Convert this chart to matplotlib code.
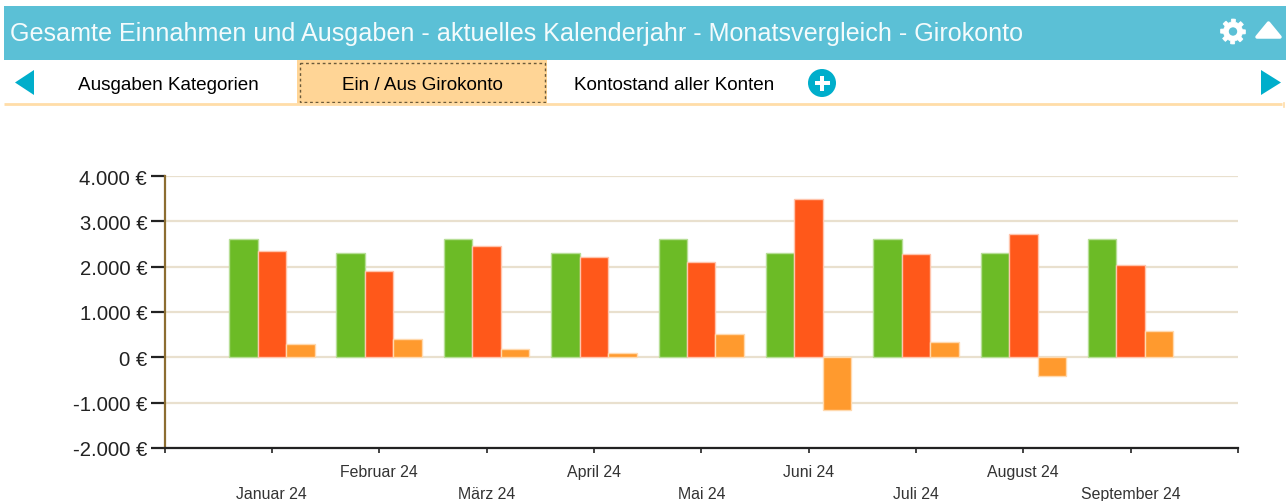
import numpy as np
import matplotlib
matplotlib.use("Agg")
import matplotlib.pyplot as plt
from matplotlib.patches import Rectangle, Polygon, Circle

months = ["Januar 24", "Februar 24", "März 24", "April 24", "Mai 24", "Juni 24",
          "Juli 24", "August 24", "September 24"]
einnahmen = [2616, 2307, 2616, 2307, 2616, 2307, 2616, 2307, 2616]
ausgaben = [2350, 1895, 2445, 2210, 2105, 3486, 2280, 2715, 2040]
differenz = [295, 400, 184, 100, 505, -1170, 335, -408, 575]
y_ticks = [-2000, -1000, 0, 1000, 2000, 3000, 4000]
y_labels = ["-2.000 €", "-1.000 €", "0 €", "1.000 €", "2.000 €", "3.000 €", "4.000 €"]
title = "Gesamte Einnahmen und Ausgaben - aktuelles Kalenderjahr - Monatsvergleich - Girokonto"
tabs = ["Ausgaben Kategorien", "Ein / Aus Girokonto", "Kontostand aller Konten"]

W, H = 1286, 502
plt.rcParams["font.family"] = ["Liberation Sans", "DejaVu Sans"]
fig = plt.figure(figsize=(W / 100, H / 100), dpi=100, facecolor="white")

# UI chrome in pixel coordinates
ui = fig.add_axes([0, 0, 1, 1])
ui.set_xlim(0, W)
ui.set_ylim(H, 0)
ui.axis("off")
TEAL = "#5BC0D6"
BLUE = "#00AECB"
ui.add_patch(Rectangle((4, 7), W - 4, 53.5, fc=TEAL, ec="none"))
ui.add_patch(Rectangle((297, 60.5), 250, 44, fc="#FFD596", ec="none"))
ui.add_patch(Rectangle((299.5, 63.5), 245, 39, fc="none", ec="#6b5a3a", lw=1, ls=(0, (2, 2))))
ui.plot([4, 1282], [104.5, 104.5], color="#FFDDA8", lw=2, solid_capstyle="butt")
ui.plot([1284, 1284], [104, 108], color="#FFDDA8", lw=1.2)
ui.text(10, 34, title, color="#F4FBFC", fontsize=18.09, va="center", ha="left")
ui.text(168.5, 85, tabs[0], color="black", fontsize=13.6, va="center", ha="center")
ui.text(422, 85, tabs[1], color="black", fontsize=13.6, va="center", ha="center")
ui.text(674.5, 85, tabs[2], color="black", fontsize=13.6, va="center", ha="center")
ui.add_patch(Polygon([[34, 71], [34, 96], [15, 83.5]], fc=BLUE, ec="none"))
ui.add_patch(Polygon([[1261, 71], [1261, 96], [1281, 83.5]], fc=BLUE, ec="none"))
ui.add_patch(Circle((822, 84), 14, fc=BLUE, ec="none"))
ui.add_patch(Rectangle((814.5, 82), 15, 4, fc="white", ec="none"))
ui.add_patch(Rectangle((820, 76.5), 4, 15, fc="white", ec="none"))
# gear icon
gx, gy = 1233, 32.5
ang = np.linspace(0, 2 * np.pi, 97)
rad = 9.5 + 3 * (np.cos(8 * ang) > 0)
ui.add_patch(Polygon(np.c_[gx + rad * np.cos(ang), gy + rad * np.sin(ang)], fc="white", ec="white", lw=0.5))
ui.add_patch(Circle((gx, gy), 4.2, fc=TEAL, ec="none"))
ui.add_patch(Polygon([[1257, 38], [1280, 38], [1268.5, 24]], fc="white", ec="white", lw=2.5, joinstyle="round"))

# Chart
L, R, T, B = 164.5, 1238, 177, 449
ax = fig.add_axes([L / W, 1 - B / H, (R - L) / W, (B - T) / H])
ax.patch.set_alpha(0)
ax.set_xlim(0, 10)
ax.set_ylim(-2000, 4000)
x = np.arange(1, len(months) + 1)
bw = 0.2654
ax.bar(x - bw, einnahmen, bw, color="#6CBB26", edgecolor="#B7DE96", lw=1, zorder=3)
ax.bar(x, ausgaben, bw, color="#FF581A", edgecolor="#FFC4AC", lw=1, zorder=3)
ax.bar(x + bw, differenz, bw, color="#FF9A2E", edgecolor="#FFD9AE", lw=1, zorder=3)

ax.set_yticks(y_ticks, y_labels)
ax.set_xticks(np.arange(0, len(months) + 2), [""] + months + [""])
ax.grid(axis="y", color="#E9E0CE", lw=1.6, zorder=0)
ax.set_axisbelow(True)
for s in ("top", "right"):
    ax.spines[s].set_visible(False)
ax.spines["left"].set_color("#8C6D31")
ax.spines["left"].set_linewidth(1.6)
ax.spines["bottom"].set_color("#222222")
ax.spines["bottom"].set_linewidth(1.6)
ax.tick_params(axis="y", length=10, width=1.6, color="#222222", pad=2.5,
               labelsize=14.6, labelcolor="#222222")
ax.tick_params(axis="x", length=3.5, width=1.2, color="#222222",
               labelsize=11.4, labelcolor="#333333")
for i, tick in enumerate(ax.xaxis.get_major_ticks()):
    tick.set_pad(24 if i % 2 == 1 else 8)
fig.savefig("out.png", dpi=100, facecolor="white")
